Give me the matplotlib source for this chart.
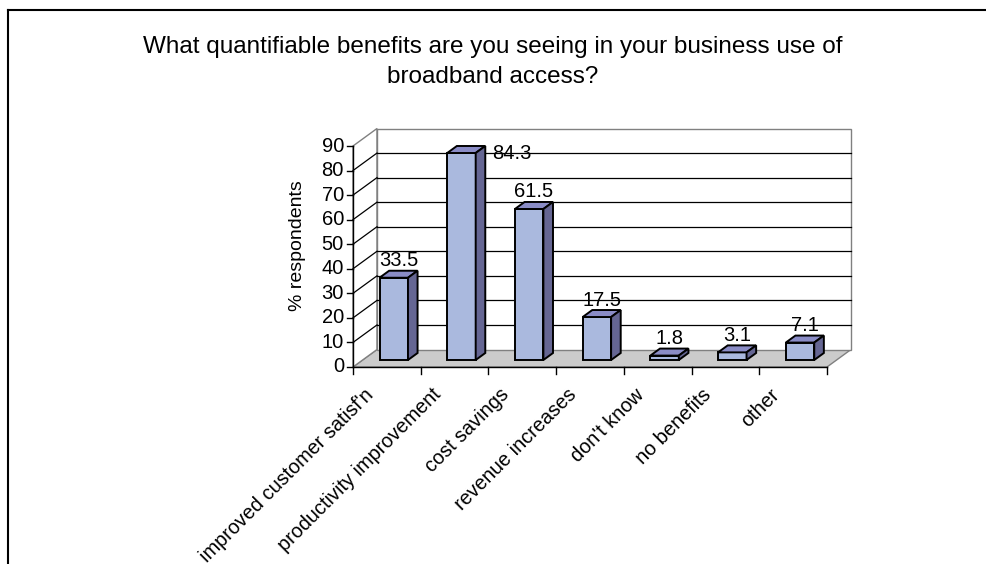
import matplotlib
matplotlib.use("Agg")
import matplotlib.pyplot as plt
from matplotlib.patches import Polygon
from matplotlib.lines import Line2D

plt.rcParams['font.family'] = ['Liberation Sans', 'DejaVu Sans']

# ---------------- data ----------------
title_lines = ["What quantifiable benefits are you seeing in your business use of",
               "broadband access?"]
categories = ["improved customer satisf'n", "productivity improvement", "cost savings",
              "revenue increases", "don't know", "no benefits", "other"]
values = [33.5, 84.3, 61.5, 17.5, 1.8, 3.1, 7.1]
value_labels = ["33.5", "84.3", "61.5", "17.5", "1.8", "3.1", "7.1"]
yticks = [0, 10, 20, 30, 40, 50, 60, 70, 80, 90]
ylabel = "% respondents"

# ---------------- figure / geometry ----------------
W, H = 987, 564
fig = plt.figure(figsize=(W / 100, H / 100), dpi=100)

x0_px, x1_px = 353, 827     # front plane x extent
y0_px, y1_px = 367, 146     # front plane value 0 and 90 (pixels from top)
ax = fig.add_axes([x0_px / W, (H - y0_px) / H, (x1_px - x0_px) / W, (y0_px - y1_px) / H])
n = len(categories)
vmax = yticks[-1]
ax.set_xlim(0, n)
ax.set_ylim(0, vmax)
ax.axis('off')

pxx = (x1_px - x0_px) / n        # pixels per category unit
pxy = (y0_px - y1_px) / vmax     # pixels per value unit
DX = 24 / pxx                    # depth offset in x units
DY = 17.5 / pxy                  # depth offset in value units

FS = 14.5


def P(x, v, d):
    return (x + d * DX, v + d * DY)


def poly(pts, fc, ec, lw, z):
    ax.add_patch(Polygon(pts, closed=True, facecolor=fc, edgecolor=ec, linewidth=lw,
                         zorder=z, clip_on=False, joinstyle='miter'))


def line(p, q, color, lw, z):
    ax.add_line(Line2D([p[0], q[0]], [p[1], q[1]], color=color, linewidth=lw,
                       zorder=z, clip_on=False))


gray = '#808080'
# floor
poly([P(0, 0, 0), P(n, 0, 0), P(n, 0, 1), P(0, 0, 1)], '#cbcbcb', gray, 1.0, 1)
# side wall and back wall
poly([P(0, 0, 0), P(0, 0, 1), P(0, vmax, 1), P(0, vmax, 0)], 'white', gray, 1.0, 1)
poly([P(0, 0, 1), P(n, 0, 1), P(n, vmax, 1), P(0, vmax, 1)], 'white', gray, 1.0, 1)
# gridlines
for t in yticks[1:-1]:
    line(P(0, t, 1), P(n, t, 1), 'black', 0.9, 2)
    line(P(0, t, 0), P(0, t, 1), 'black', 0.9, 2)

# axes lines
line(P(0, 0, 0), P(0, vmax, 0), 'black', 1.0, 3)
line(P(0, 0, 0), P(n, 0, 0), 'black', 1.0, 3)
for t in yticks:
    line(P(0, t, 0), P(-6 / pxx, t, 0), 'black', 1.0, 3)
    ax.text(-9 / pxx, t, str(t), ha='right', va='center', fontsize=FS, clip_on=False)
for i in range(n + 1):
    line(P(i, 0, 0), P(i, -7 / pxy, 0), 'black', 1.0, 3)
for i, c in enumerate(categories):
    ax.text(i + 0.5 - 10 / pxx, -18 / pxy, c, ha='right', va='top', rotation=45,
            fontsize=14.3, clip_on=False)

# bars
front_c, top_c, side_c = '#aab9de', '#8a8cc6', '#656693'
bw = 0.42
d0, d1 = 0.4, 0.8
for i, v in enumerate(values):
    xc = i + 0.46
    xa, xb = xc - bw / 2, xc + bw / 2
    poly([P(xa, 0, d0), P(xb, 0, d0), P(xb, v, d0), P(xa, v, d0)], front_c, 'black', 1.4, 5)
    poly([P(xa, v, d0), P(xb, v, d0), P(xb, v, d1), P(xa, v, d1)], top_c, 'black', 1.4, 5)
    poly([P(xb, 0, d0), P(xb, 0, d1), P(xb, v, d1), P(xb, v, d0)], side_c, 'black', 1.4, 5)
    ly = v + 24 / pxy
    if ly > vmax:
        lx = xb + d1 * DX + 7 / pxx
        ax.text(lx, v + 6 / pxy, value_labels[i], ha='left', va='center', fontsize=FS,
                zorder=6, clip_on=False)
    else:
        lx = xc + 0.6 * DX
        ax.text(lx, ly, value_labels[i], ha='center', va='center', fontsize=FS,
                zorder=6, clip_on=False)

# y label
fig.text(297 / W, 1 - 246 / H, ylabel, rotation=90, ha='center', va='center', fontsize=14)

# title
fig.text(493 / W, 1 - 47 / H, title_lines[0], ha='center', va='center', fontsize=17.5)
fig.text(493 / W, 1 - 77 / H, title_lines[1], ha='center', va='center', fontsize=17.5)

# outer border (top and left)
fig.add_artist(Line2D([8 / W, 1], [1 - 10 / H, 1 - 10 / H], color='black', linewidth=1.5,
                      transform=fig.transFigure))
fig.add_artist(Line2D([8 / W, 8 / W], [1 - 10 / H, 0], color='black', linewidth=1.5,
                      transform=fig.transFigure))

fig.savefig("out.png", dpi=100)
